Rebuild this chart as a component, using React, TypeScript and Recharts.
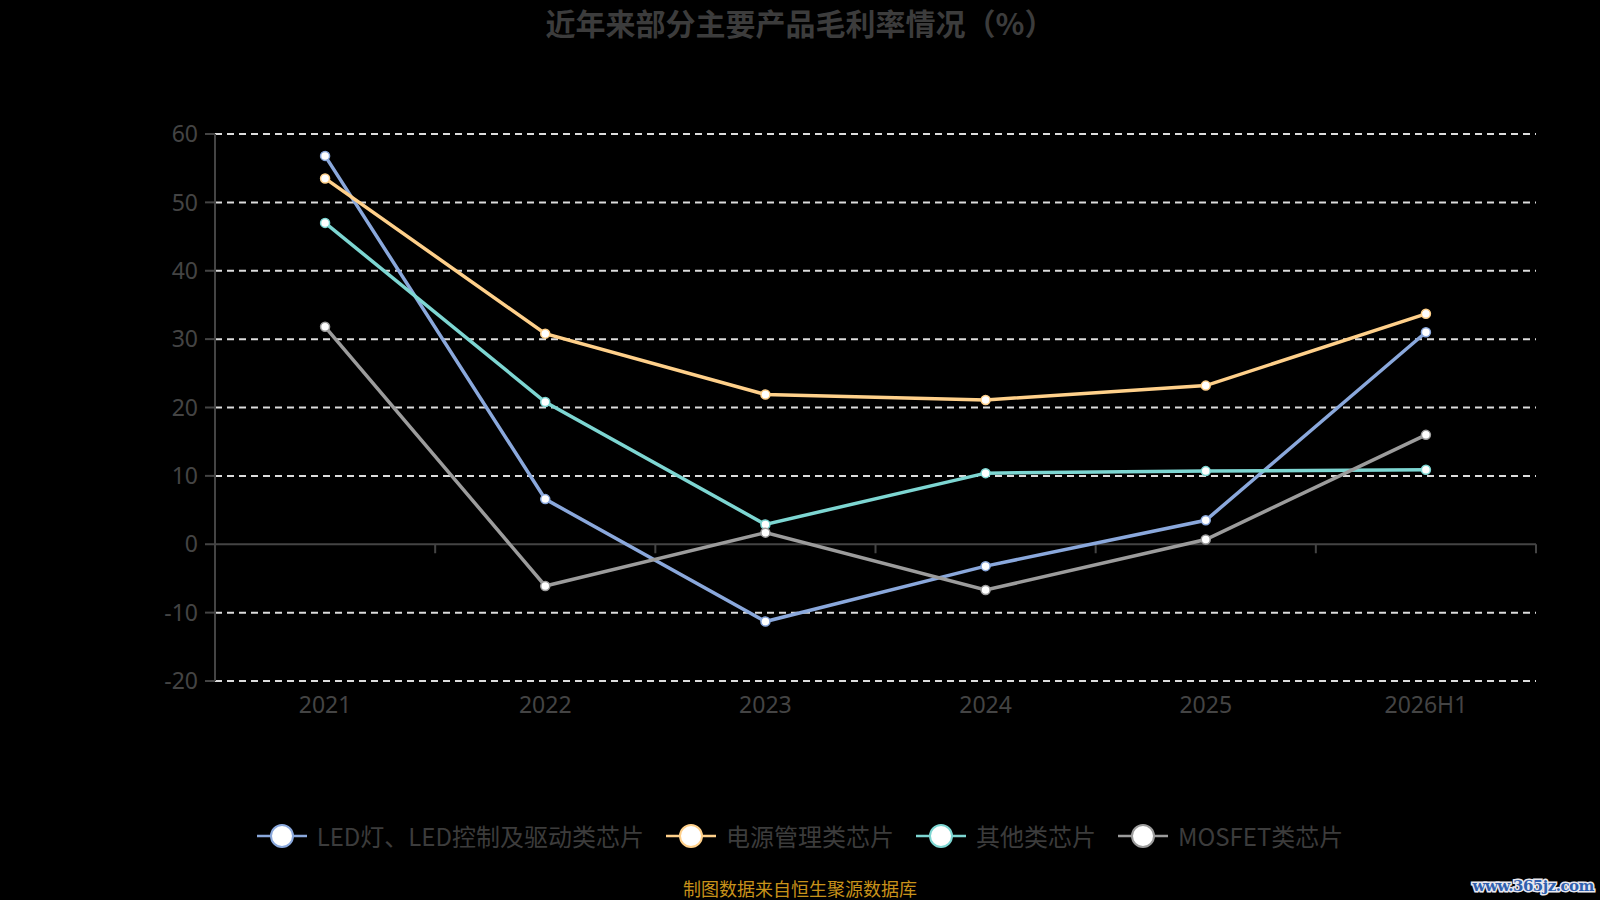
import React from "react";
import {
  LineChart,
  Line,
  XAxis,
  YAxis,
  CartesianGrid,
  ReferenceLine,
} from "recharts";

const years = ["2021", "2022", "2023", "2024", "2025", "2026H1"];
const ledChips = [56.8, 6.6, -11.3, -3.2, 3.5, 31.0];
const powerChips = [53.5, 30.8, 21.9, 21.1, 23.2, 33.7];
const otherChips = [47.0, 20.8, 2.9, 10.4, 10.7, 10.9];
const mosfetChips = [31.8, -6.1, 1.7, -6.7, 0.7, 16.0];
const yTicks = [-20, -10, 0, 10, 20, 30, 40, 50, 60];

const series = [
  { key: "led", name: "LED灯、LED控制及驱动类芯片", color: "#8aa8dc", values: ledChips },
  { key: "power", name: "电源管理类芯片", color: "#ffd08a", values: powerChips },
  { key: "other", name: "其他类芯片", color: "#7dd6d2", values: otherChips },
  { key: "mosfet", name: "MOSFET类芯片", color: "#9c9c9c", values: mosfetChips },
];

// numeric x so the axis ticks can sit between the categories
const data = years.map((year, i) => {
  const row: any = { pos: i + 0.5, year };
  series.forEach((s) => {
    row[s.key] = s.values[i];
  });
  return row;
});

const FONT = "'Noto Sans', 'Noto Sans CJK SC', sans-serif";
const AXIS = "#444";

const ZeroAxis = (props: any) => {
  const { x1, x2, y1 } = props;
  const step = (x2 - x1) / years.length;
  return (
    <g>
      <line x1={x1} x2={x2} y1={y1} y2={y1} stroke={AXIS} strokeWidth={2} />
      {years.map((_, i) => (
        <line
          key={i}
          x1={x1 + step * (i + 1)}
          x2={x1 + step * (i + 1)}
          y1={y1}
          y2={y1 + 9}
          stroke={AXIS}
          strokeWidth={2}
        />
      ))}
    </g>
  );
};

const LegendIcon = ({ color }: { color: string }) => (
  <svg width={50} height={28}>
    <line x1={0} x2={50} y1={14} y2={14} stroke={color} strokeWidth={2.5} />
    <circle cx={25} cy={14} r={11} fill="#fff" stroke={color} strokeWidth={2} />
  </svg>
);

const App = () => {
  return (
    <div
      style={{
        position: "absolute",
        left: 0,
        top: 0,
        width: 1600,
        height: 900,
        background: "#000",
        fontFamily: FONT,
        overflow: "hidden",
      }}
    >
      <div
        style={{
          position: "absolute",
          top: 0,
          left: 0,
          width: 1600,
          textAlign: "center",
          fontSize: 30,
          lineHeight: "44px",
          fontWeight: "bold",
          color: "#3c3c3c",
          fontFamily: "'Noto Sans CJK SC', sans-serif",
        }}
      >
        近年来部分主要产品毛利率情况（%）
      </div>

      <LineChart
        width={1600}
        height={900}
        data={data}
        margin={{ top: 134, right: 64, bottom: 189, left: 155 }}
      >
        <CartesianGrid
          vertical={false}
          horizontalValues={[-20, -10, 10, 20, 30, 40, 50, 60]}
          stroke="#dcdcdc"
          strokeDasharray="7 5"
          strokeWidth={2}
        />
        <XAxis
          dataKey="pos"
          type="number"
          domain={[0, years.length]}
          ticks={data.map((d) => d.pos)}
          tickFormatter={(v: number) => years[Math.floor(v)]}
          axisLine={false}
          tickLine={false}
          tickSize={8}
          tickMargin={8}
          height={30}
          tick={{ fill: AXIS, fontSize: 23, fontFamily: FONT }}
        />
        <YAxis
          domain={[-20, 60]}
          ticks={yTicks}
          interval={0}
          width={60}
          axisLine={{ stroke: AXIS, strokeWidth: 2 }}
          tickLine={{ stroke: AXIS, strokeWidth: 2 }}
          tickSize={10}
          tickMargin={7}
          tick={{ fill: AXIS, fontSize: 23, fontFamily: FONT }}
        />
        <ReferenceLine y={0} shape={ZeroAxis} />
        {series.map((s) => (
          <Line
            key={s.key}
            dataKey={s.key}
            name={s.name}
            type="linear"
            stroke={s.color}
            strokeWidth={3.5}
            dot={{ r: 4.5, fill: "#fff", stroke: s.color, strokeWidth: 1.5 }}
            activeDot={false}
            isAnimationActive={false}
          />
        ))}
      </LineChart>

      <div
        style={{
          position: "absolute",
          top: 822,
          left: 0,
          width: 1600,
          display: "flex",
          justifyContent: "center",
          alignItems: "center",
          gap: 22,
          fontSize: 24,
          color: "#3c3c3c",
          fontFamily: "'Noto Sans CJK SC', sans-serif",
        }}
      >
        {series.map((s) => (
          <div key={s.key} style={{ display: "flex", alignItems: "center" }}>
            <LegendIcon color={s.color} />
            <span style={{ marginLeft: 10, lineHeight: "28px" }}>{s.name}</span>
          </div>
        ))}
      </div>

      <div
        style={{
          position: "absolute",
          top: 878,
          left: 0,
          width: 1600,
          textAlign: "center",
          fontSize: 18,
          color: "#c8921a",
          fontFamily: "'Noto Sans CJK SC', sans-serif",
          lineHeight: "20px",
        }}
      >
        制图数据来自恒生聚源数据库
      </div>

      <div
        style={{
          position: "absolute",
          top: 876,
          right: 6,
          fontSize: 15,
          fontWeight: "bold",
          color: "#2f5fae",
          fontFamily: "'DejaVu Serif', serif",
          WebkitTextStroke: "3px #e8e8f0",
          paintOrder: "stroke fill",
          lineHeight: "20px",
          letterSpacing: -0.5,
          whiteSpace: "nowrap",
        }}
      >
        www.365jz.com
      </div>
    </div>
  );
};

export default App;
